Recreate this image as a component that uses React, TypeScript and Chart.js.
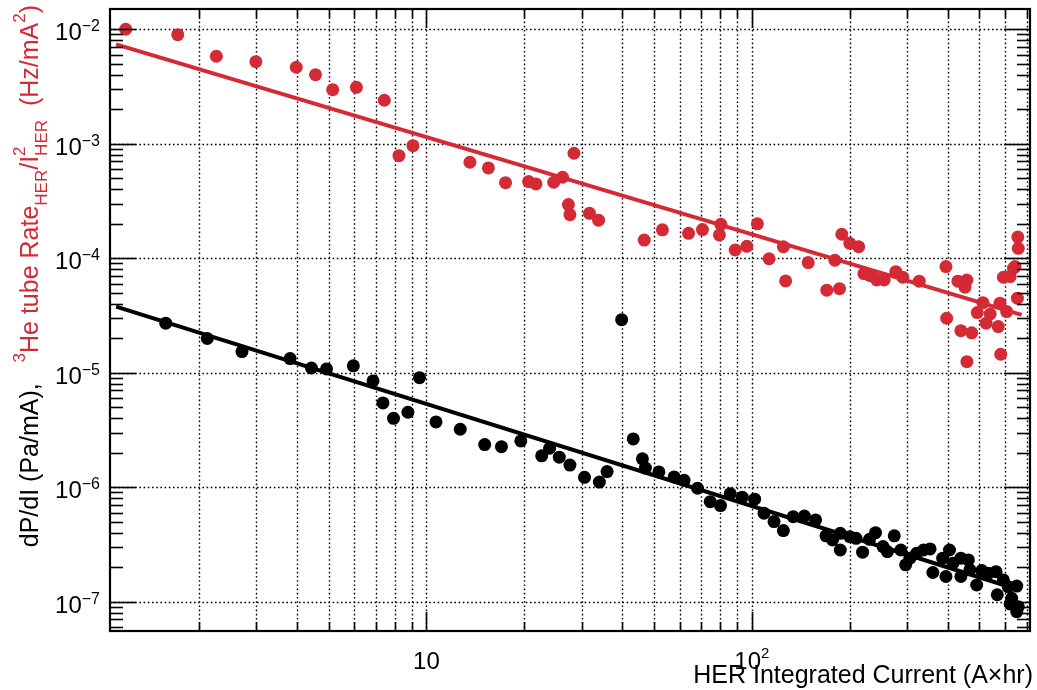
import React, { useEffect, useRef } from "react";
import { Chart, registerables } from "chart.js";

Chart.register(...registerables);

const RED = "#d42a35";
const INK = "#000000";
const FONT = '"Liberation Sans", Arimo, Arial, Helvetica, sans-serif';

// HER integrated current (A x hr) and 3He tube rate / I^2 (Hz/mA^2)
const heX = [1.19, 1.72, 2.26, 2.99, 3.98, 4.56, 5.15, 6.09, 7.42, 8.23, 9.09, 13.6, 15.5, 17.5, 20.6, 21.7, 24.6, 26.2, 28.4, 27.3, 27.6, 31.7, 33.8, 46.7, 53.1, 63.9, 70.5, 80.3, 79.5, 88.9, 96.5, 104, 113, 125, 127, 149, 170, 186, 180, 189, 200, 213, 221, 231, 242, 255, 277, 291, 327, 395, 397, 430, 458, 452, 439, 474, 458, 513, 493, 540, 525, 579, 572, 607, 582, 593, 622, 637, 644, 657, 659, 655];
const heY = [1.0e-2, 8.97e-3, 5.81e-3, 5.21e-3, 4.66e-3, 4.01e-3, 2.97e-3, 3.11e-3, 2.40e-3, 7.87e-4, 9.62e-4, 6.89e-4, 6.15e-4, 4.57e-4, 4.67e-4, 4.46e-4, 4.61e-4, 5.10e-4, 8.26e-4, 2.94e-4, 2.40e-4, 2.47e-4, 2.15e-4, 1.44e-4, 1.77e-4, 1.65e-4, 1.78e-4, 1.98e-4, 1.60e-4, 1.18e-4, 1.27e-4, 2.00e-4, 9.9e-5, 1.26e-4, 6.34e-5, 9.16e-5, 5.26e-5, 5.42e-5, 9.6e-5, 1.62e-4, 1.35e-4, 1.26e-4, 7.34e-5, 7.05e-5, 6.46e-5, 6.46e-5, 7.64e-5, 6.82e-5, 6.3e-5, 8.45e-5, 2.99e-5, 6.3e-5, 6.46e-5, 5.58e-5, 2.33e-5, 2.23e-5, 1.25e-5, 4.09e-5, 3.35e-5, 3.26e-5, 2.71e-5, 4.05e-5, 2.53e-5, 3.42e-5, 1.45e-5, 6.82e-5, 6.91e-5, 8.18e-5, 8.45e-5, 1.53e-4, 1.22e-4, 4.48e-5];

// HER integrated current (A x hr) and pressure rise dP/dI (Pa/mA)
const dpX = [1.58, 2.12, 2.71, 3.81, 4.43, 4.93, 5.96, 6.85, 7.35, 7.92, 8.77, 9.52, 10.7, 12.7, 15.1, 17.0, 19.5, 22.6, 23.9, 25.6, 27.6, 30.6, 34.0, 35.9, 39.8, 43.2, 46.1, 47.1, 51.8, 57.7, 61.9, 68.1, 74.5, 80.1, 85.8, 93.4, 102, 109, 117, 125, 134, 145, 157, 169, 177, 187, 187, 200, 209, 219, 230, 240, 253, 261, 274, 287, 297, 306, 321, 337, 353, 360, 386, 405, 395, 415, 439, 439, 463, 468, 491, 509, 533, 563, 568, 593, 614, 629, 652, 659, 652, 622];
const dpY = [2.71e-5, 1.99e-5, 1.53e-5, 1.33e-5, 1.10e-5, 1.08e-5, 1.15e-5, 8.48e-6, 5.45e-6, 4.0e-6, 4.52e-6, 9.06e-6, 3.72e-6, 3.21e-6, 2.36e-6, 2.26e-6, 2.54e-6, 1.88e-6, 2.19e-6, 1.83e-6, 1.56e-6, 1.22e-6, 1.11e-6, 1.37e-6, 2.91e-5, 2.64e-6, 1.77e-6, 1.47e-6, 1.36e-6, 1.23e-6, 1.15e-6, 9.8e-7, 7.48e-7, 6.91e-7, 8.79e-7, 8.18e-7, 7.86e-7, 5.93e-7, 5.01e-7, 4.18e-7, 5.53e-7, 5.61e-7, 5.18e-7, 3.76e-7, 3.46e-7, 3.96e-7, 2.83e-7, 3.70e-7, 3.58e-7, 2.71e-7, 3.51e-7, 4.01e-7, 3.03e-7, 2.74e-7, 3.76e-7, 2.83e-7, 2.10e-7, 2.40e-7, 2.65e-7, 2.83e-7, 2.89e-7, 1.80e-7, 2.40e-7, 2.83e-7, 1.66e-7, 2.17e-7, 1.66e-7, 2.40e-7, 2.32e-7, 1.90e-7, 1.40e-7, 1.87e-7, 1.77e-7, 1.83e-7, 1.15e-7, 1.55e-7, 1.35e-7, 1.07e-7, 1.37e-7, 9.06e-8, 8.19e-8, 9.57e-8];

// power-law fit lines (end points)
const heFitX = [1.112, 675];
const heFitY = [7.39e-3, 3.2e-5];
const dpFitX = [1.112, 670];
const dpFitY = [3.78e-5, 1.26e-7];

// axis ranges
const X_MIN = 1.065;
const X_MAX = 716;
const Y_MIN = 5.55e-8;
const Y_MAX = 0.01503;

// ticks
const xMajorTicks = [10, 100];
const xMajorLabels = [["10", ""], ["10", "2"]];
const xMinorTicks = [2, 3, 4, 5, 6, 7, 8, 9, 20, 30, 40, 50, 60, 70, 80, 90, 200, 300, 400, 500, 600, 700];
const yMajorExponents = [-7, -6, -5, -4, -3, -2];
const yMinorMantissas = [2, 3, 4, 5, 6, 7, 8, 9];

const X_TITLE = "HER Integrated Current (A\u00d7hr)";

type Run = { text: string; size: number; dy: number; color: string; under?: Run };

const Y_TITLE: Run[] = [
  { text: "dP/dI (Pa/mA),", size: 25, dy: 0, color: INK },
  { text: "   ", size: 25, dy: 0, color: RED },
  { text: "3", size: 17, dy: -13, color: RED },
  { text: "He tube Rate", size: 25, dy: 0, color: RED },
  { text: "HER", size: 17, dy: 9, color: RED },
  { text: "/I", size: 25, dy: 0, color: RED },
  { text: "2", size: 17, dy: -13, color: RED, under: { text: "HER", size: 17, dy: 9, color: RED } },
  { text: "  (Hz/mA", size: 25, dy: 0, color: RED },
  { text: "2", size: 17, dy: -13, color: RED },
  { text: ")", size: 25, dy: 0, color: RED },
];

function runWidth(ctx: CanvasRenderingContext2D, r: Run): number {
  ctx.font = `${r.size}px ${FONT}`;
  let w = ctx.measureText(r.text).width;
  if (r.under) {
    ctx.font = `${r.under.size}px ${FONT}`;
    w = Math.max(w, ctx.measureText(r.under.text).width);
  }
  return w;
}

function runsWidth(ctx: CanvasRenderingContext2D, runs: Run[]): number {
  return runs.reduce((s, r) => s + runWidth(ctx, r), 0);
}

function drawRuns(ctx: CanvasRenderingContext2D, runs: Run[], x: number, y: number) {
  let cx = x;
  for (const r of runs) {
    const w = runWidth(ctx, r);
    ctx.font = `${r.size}px ${FONT}`;
    ctx.fillStyle = r.color;
    ctx.fillText(r.text, cx, y + r.dy);
    if (r.under) {
      ctx.font = `${r.under.size}px ${FONT}`;
      ctx.fillStyle = r.under.color;
      ctx.fillText(r.under.text, cx, y + r.under.dy);
    }
    cx += w;
  }
}

function segment(ctx: CanvasRenderingContext2D, x1: number, y1: number, x2: number, y2: number) {
  ctx.beginPath();
  ctx.moveTo(x1, y1);
  ctx.lineTo(x2, y2);
  ctx.stroke();
}

const frameAxes = {
  id: "frameAxes",
  beforeDatasetsDraw(chart: any) {
    const { ctx, chartArea: a, scales } = chart;
    const xs = scales.x;
    const ys = scales.y;
    ctx.save();
    ctx.strokeStyle = INK;
    ctx.lineWidth = 1.4;
    ctx.setLineDash([1.6, 2.6]);
    for (const v of [...xMinorTicks, ...xMajorTicks]) {
      const px = Math.round(xs.getPixelForValue(v)) + 0.5;
      segment(ctx, px, a.top, px, a.bottom);
    }
    for (const e of yMajorExponents) {
      const py = Math.round(ys.getPixelForValue(Math.pow(10, e))) + 0.5;
      segment(ctx, a.left, py, a.right, py);
    }
    ctx.restore();
  },
  afterDatasetsDraw(chart: any) {
    const { ctx, chartArea: a, scales } = chart;
    const xs = scales.x;
    const ys = scales.y;
    ctx.save();
    ctx.strokeStyle = INK;
    ctx.setLineDash([]);

    // y ticks, left and right, pointing inward
    ctx.lineWidth = 1.6;
    for (let e = -8; e <= -2; e++) {
      for (const m of [1, ...yMinorMantissas]) {
        const v = m * Math.pow(10, e);
        if (v < Y_MIN || v > Y_MAX) continue;
        const py = Math.round(ys.getPixelForValue(v)) + 0.5;
        const len = m === 1 ? 26 : 13;
        segment(ctx, a.left, py, a.left + len, py);
        segment(ctx, a.right, py, a.right - len, py);
      }
    }
    // x ticks, bottom and top, pointing inward
    for (const v of [...xMinorTicks, ...xMajorTicks]) {
      const px = Math.round(xs.getPixelForValue(v)) + 0.5;
      const len = xMajorTicks.includes(v) ? 19 : 9;
      segment(ctx, px, a.bottom, px, a.bottom - len);
      segment(ctx, px, a.top, px, a.top + len);
    }

    // frame
    ctx.lineWidth = 2.2;
    ctx.strokeRect(a.left, a.top, a.right - a.left, a.bottom - a.top);

    ctx.textBaseline = "alphabetic";
    ctx.textAlign = "left";

    // y tick labels
    for (const e of yMajorExponents) {
      const py = ys.getPixelForValue(Math.pow(10, e));
      const runs: Run[] = [
        { text: "10", size: 24, dy: 0, color: INK },
        { text: "\u2212" + Math.abs(e), size: 16, dy: -9, color: INK },
      ];
      const w = runsWidth(ctx, runs);
      drawRuns(ctx, runs, 100 - w, py + 11);
    }

    // x tick labels
    xMajorTicks.forEach((v, i) => {
      const px = xs.getPixelForValue(v);
      const [base, exp] = xMajorLabels[i];
      const runs: Run[] = [{ text: base, size: 24, dy: 0, color: INK }];
      if (exp) runs.push({ text: exp, size: 15, dy: -11, color: INK });
      const w = runsWidth(ctx, runs);
      drawRuns(ctx, runs, px - w / 2, 669);
    });

    // x title, right aligned
    ctx.font = `25px ${FONT}`;
    ctx.fillStyle = INK;
    ctx.textAlign = "right";
    ctx.fillText(X_TITLE, 1033, 683);
    ctx.textAlign = "left";

    // y title, rotated, ending at the top
    const tw = runsWidth(ctx, Y_TITLE);
    ctx.translate(38, 5);
    ctx.rotate(-Math.PI / 2);
    drawRuns(ctx, Y_TITLE, -tw, 0);

    ctx.restore();
  },
};

function points(xs: number[], ys: number[]) {
  return xs.map((x, i) => ({ x, y: ys[i] }));
}

export default function App() {
  const canvasRef = useRef<HTMLCanvasElement | null>(null);

  useEffect(() => {
    const canvas = canvasRef.current;
    if (!canvas) return;
    const chart = new Chart(canvas, {
      type: "scatter",
      data: {
        datasets: [
          {
            label: "3He fit",
            data: points(heFitX, heFitY),
            showLine: true,
            borderColor: RED,
            borderWidth: 4,
            pointRadius: 0,
            order: 0,
          },
          {
            label: "dP/dI fit",
            data: points(dpFitX, dpFitY),
            showLine: true,
            borderColor: INK,
            borderWidth: 4,
            pointRadius: 0,
            order: 1,
          },
          {
            label: "3He tube rate",
            data: points(heX, heY),
            backgroundColor: RED,
            borderWidth: 0,
            pointRadius: 6.5,
            order: 2,
          },
          {
            label: "dP/dI",
            data: points(dpX, dpY),
            backgroundColor: INK,
            borderWidth: 0,
            pointRadius: 6.5,
            order: 3,
          },
        ],
      },
      options: {
        animation: false,
        responsive: false,
        devicePixelRatio: 1,
        layout: { padding: { left: 110, top: 9, right: 7, bottom: 59 } },
        scales: {
          x: { type: "logarithmic", min: X_MIN, max: X_MAX, display: false },
          y: { type: "logarithmic", min: Y_MIN, max: Y_MAX, display: false },
        },
        plugins: {
          legend: { display: false },
          tooltip: { enabled: false },
        },
      },
      plugins: [frameAxes],
    });
    return () => chart.destroy();
  }, []);

  return (
    <div style={{ position: "fixed", left: 0, top: 0, width: 1037, height: 690, background: "#ffffff" }}>
      <canvas ref={canvasRef} width={1037} height={690} style={{ display: "block" }} />
    </div>
  );
}
